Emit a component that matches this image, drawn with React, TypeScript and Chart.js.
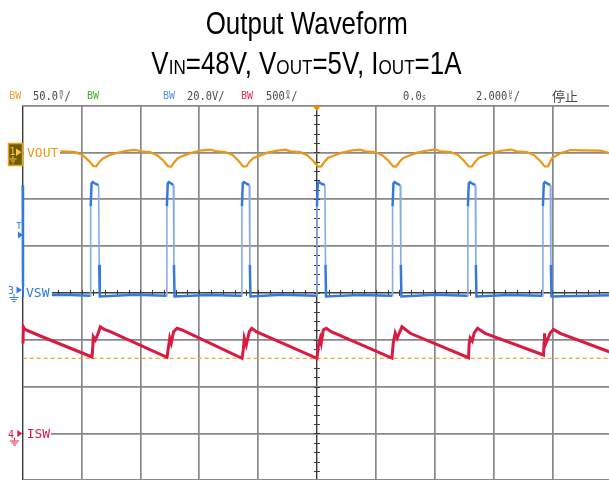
import React, { useEffect, useRef } from "react";
import { Chart, registerables } from "chart.js";

Chart.register(...registerables);

// ---------- scope settings ----------
// Horizontal: 2.000 us/div, 10 divisions, trigger at 0
const timeMinUs = -10;
const timeMaxUs = 10;
const timeDivUs = 2;
const timeMinorUs = 0.4;

// CH3 VSW: 20 V/div, ground at center
const vswMinV = -80;
const vswMaxV = 80;
const vswDivV = 20;
const vswMinorV = 4;

// CH1 VOUT: 50 mV/div (AC), ground 3 div above center
const voutMinMv = -350;
const voutMaxMv = 50;

// CH4 ISW: 500 mA/div, ground 3 div below center
const iswMinMa = -500;
const iswMaxMa = 3500;
const iswCursorMa = 802;

// ---------- waveform data ----------
const voutTimeUs = [
  -8.72, -8.45, -8.21, -7.97, -7.77, -7.6, -7.5, -7.39, -7.26, -7.05, -6.78, -6.44, -6.17,
  -6.0, -5.67, -5.43, -5.22, -5.06, -4.95, -4.85, -4.72, -4.5, -4.24, -3.9, -3.62,
  -3.45, -3.12, -2.88, -2.68, -2.51, -2.4, -2.3, -2.17, -1.95, -1.69, -1.35, -1.08,
  -0.9, -0.57, -0.33, -0.13, 0.04, 0.15, 0.25, 0.38, 0.59, 0.86, 1.2, 1.47,
  1.64, 1.98, 2.22, 2.42, 2.59, 2.69, 2.8, 2.93, 3.14, 3.41, 3.75, 4.02,
  4.21, 4.55, 4.79, 4.99, 5.16, 5.27, 5.37, 5.5, 5.71, 5.98, 6.32, 6.59,
  6.8, 7.13, 7.37, 7.57, 7.74, 7.85, 7.99, 8.27, 8.61, 9.0, 9.63, 9.93,
];
const voutMv = [
  1.0, 0.8, 0.2, -2.8, -8.5, -14.6, -14.9, -10.0, -6.2, -3.0, -0.4, 1.8, 2.6,
  1.2, 0.3, -3.0, -8.8, -15.0, -15.2, -10.5, -6.0, -3.2, -0.2, 2.2, 3.0,
  1.3, 0.4, -2.6, -8.4, -15.0, -15.1, -10.4, -6.3, -3.5, -0.3, 1.9, 2.8,
  1.0, 0.2, -3.0, -8.9, -15.2, -15.0, -10.2, -5.8, -3.3, -0.1, 2.1, 3.0,
  1.1, 0.3, -2.9, -8.6, -15.0, -15.2, -10.3, -6.1, -3.4, -0.3, 2.0, 3.1,
  1.0, 0.4, -2.7, -8.7, -15.1, -15.0, -10.4, -6.0, -3.4, -0.2, 2.0, 3.0,
  1.0, 0.3, -2.8, -8.6, -15.0, -15.1, -6.0, -1.0, 2.5, 2.2, 1.8, -0.7,
];

const vswTimeUs = [
  -10.0, -9.99, -9.97, -8.6,
  -7.7, -7.69, -7.66, -7.62, -7.52, -7.42, -7.4, -7.38, -6.2,
  -5.11, -5.1, -5.07, -5.03, -4.93, -4.88, -4.86, -4.84, -3.7,
  -2.56, -2.55, -2.52, -2.48, -2.38, -2.3, -2.28, -2.26, -1.2,
  -0.01, 0.0, 0.03, 0.07, 0.17, 0.27, 0.29, 0.31, 1.4,
  2.56, 2.57, 2.6, 2.64, 2.74, 2.83, 2.85, 2.87, 4.0,
  5.12, 5.13, 5.16, 5.2, 5.3, 5.38, 5.4, 5.42, 6.5,
  7.67, 7.68, 7.71, 7.75, 7.85, 7.93, 7.95, 7.97, 10.0,
];
const vswVolts = [
  46.0, 4, -1.2, -0.8,
  -1.2, 37, 46.8, 47.3, 46.5, 46.0, 12, -1.5, -0.8,
  -1.2, 37, 46.8, 47.3, 46.5, 46.0, 12, -1.5, -0.9,
  -1.2, 37, 46.8, 47.3, 46.5, 46.0, 12, -1.5, -0.8,
  -1.2, 37, 46.8, 47.3, 46.5, 46.0, 12, -1.5, -0.9,
  -1.2, 37, 46.8, 47.3, 46.5, 46.0, 12, -1.5, -0.8,
  -1.2, 37, 46.8, 47.3, 46.5, 46.0, 12, -1.5, -0.9,
  -1.2, 37, 46.8, 47.3, 46.5, 46.0, 12, -1.5, -1.0,
];

const iswTimeUs = [
  -9.99, -9.98, -9.92, -9.4, -7.645, -7.618, -7.601, -7.533, -7.431, -7.363, -7.227, -7.023,
  -5.097, -5.043, -5.002, -4.951, -4.873, -4.757, -4.587,
  -2.548, -2.504, -2.47, -2.402, -2.3, -2.215, -2.063,
  0.0, 0.044, 0.112, 0.146, 0.214, 0.316, 0.486,
  2.548, 2.593, 2.661, 2.729, 2.888, 3.17,
  5.151, 5.175, 5.209, 5.277, 5.345, 5.457, 5.719,
  7.7, 7.717, 7.734, 7.758, 7.927, 8.039, 8.267, 9.932,
];
const iswMa = [
  960, 1140, 1110, 1040, 816, 926, 1032, 997, 1072, 1139, 1111, 1086,
  813, 926, 1019, 965, 1086, 1122, 1104,
  802, 891, 1019, 944, 1086, 1122, 1086,
  802, 926, 1015, 965, 1104, 1122, 1086,
  805, 962, 1072, 1019, 1139, 1069,
  808, 965, 1019, 986, 1072, 1122, 1069,
  837, 962, 1069, 944, 1072, 1111, 1069, 872,
];

// ---------- colours ----------
const ORANGE = "#ec9716";
const BLUE = "#3479de";
const BLUE_EDGE = "#86ace8";
const RED = "#da1a40";
const GREEN = "#3fae2a";
const GRID = "#888888";
const GRID_DARK = "#3a3a3a";
const STATUS = "#4a4a4a";

const toPoints = (xs: number[], ys: number[]) => xs.map((x, i) => ({ x, y: ys[i] }));

const crosshairPlugin = {
  id: "crosshair",
  beforeDatasetsDraw(chart: any) {
    const { ctx } = chart;
    const x = chart.scales.x;
    const y = chart.scales.y;
    const cx = x.getPixelForValue(0);
    const cy = y.getPixelForValue(0);
    ctx.save();
    ctx.strokeStyle = GRID_DARK;
    ctx.lineWidth = 1;
    ctx.beginPath();
    for (let t = timeMinUs; t <= timeMaxUs + 1e-9; t += timeMinorUs) {
      const px = Math.round(x.getPixelForValue(t)) + 0.5;
      ctx.moveTo(px, cy - 3);
      ctx.lineTo(px, cy + 3);
    }
    for (let v = vswMinV; v <= vswMaxV + 1e-9; v += vswMinorV) {
      const py = Math.round(y.getPixelForValue(v)) + 0.5;
      ctx.moveTo(cx - 3, py);
      ctx.lineTo(cx + 3, py);
    }
    ctx.stroke();
    ctx.restore();
  },
};

const isDark = (v: number) => v === 0 || v === timeMinUs;
const isEdge = (c: any) => Math.abs(c.p1.parsed.y - c.p0.parsed.y) > 15 && c.p0.parsed.x > timeMinUs + 0.005;

export default function App() {
  const ref = useRef<HTMLCanvasElement>(null);

  useEffect(() => {
    const chart = new Chart(ref.current as HTMLCanvasElement, {
      type: "line",
      data: {
        datasets: [
          {
            label: "VOUT",
            data: toPoints(voutTimeUs, voutMv),
            yAxisID: "yOut",
            borderColor: ORANGE,
            borderWidth: 2.2,
            pointRadius: 0,
            tension: 0,
          },
          {
            label: "VSW",
            data: toPoints(vswTimeUs, vswVolts),
            yAxisID: "y",
            borderColor: BLUE,
            borderWidth: 2.5,
            pointRadius: 0,
            tension: 0,
            clip: 3,
            segment: {
              borderColor: (c: any) => (isEdge(c) ? BLUE_EDGE : BLUE),
              borderWidth: (c: any) => (isEdge(c) ? 1.6 : 2.5),
            },
          },
          {
            label: "ISW",
            data: toPoints(iswTimeUs, iswMa),
            yAxisID: "yI",
            borderColor: RED,
            borderWidth: 3,
            pointRadius: 0,
            tension: 0,
            clip: 3,
          },
          {
            label: "cursor",
            data: [
              { x: timeMinUs, y: iswCursorMa },
              { x: timeMaxUs, y: iswCursorMa },
            ],
            yAxisID: "yI",
            borderColor: "#f5a33a",
            borderWidth: 1.2,
            borderDash: [4, 3],
            pointRadius: 0,
          },
        ],
      },
      options: {
        animation: false,
        responsive: false,
        maintainAspectRatio: false,
        layout: { padding: { left: 22.7, top: 105.5, right: 640 - 611.2, bottom: 500 - 480.3 } },
        plugins: {
          legend: { display: false },
          tooltip: { enabled: false },
          title: { display: false },
        },
        scales: {
          x: {
            type: "linear",
            min: timeMinUs,
            max: timeMaxUs,
            ticks: { display: false, stepSize: timeDivUs },
            border: { display: false },
            grid: {
              drawTicks: false,
              color: (c: any) => (c.tick && isDark(c.tick.value) ? GRID_DARK : GRID),
              lineWidth: (c: any) => (c.tick && isDark(c.tick.value) ? 1.4 : 1.7),
            },
            afterFit: (s: any) => {
              s.height = 0;
            },
          },
          y: {
            type: "linear",
            min: vswMinV,
            max: vswMaxV,
            ticks: { display: false, stepSize: vswDivV },
            border: { display: false },
            grid: {
              drawTicks: false,
              color: (c: any) => (c.tick && c.tick.value === 0 ? GRID_DARK : GRID),
              lineWidth: (c: any) => (c.tick && c.tick.value === 0 ? 1.4 : 1.7),
            },
            afterFit: (s: any) => {
              s.width = 0;
            },
          },
          yOut: { type: "linear", display: false, min: voutMinMv, max: voutMaxMv },
          yI: { type: "linear", display: false, min: iswMinMa, max: iswMaxMa },
        },
      } as any,
      plugins: [crosshairPlugin],
    });
    return () => chart.destroy();
  }, []);

  const mono = "'DejaVu Sans Mono', 'Liberation Mono', monospace";
  const abs = (left: number, top: number, extra: React.CSSProperties = {}): React.CSSProperties => ({
    position: "absolute",
    left,
    top,
    whiteSpace: "nowrap",
    ...extra,
  });
  // narrow scope-style status text: a row scaled horizontally
  const group = (left: number, children: React.ReactNode) => (
    <div
      style={abs(left, 89, {
        display: "flex",
        alignItems: "flex-start",
        fontFamily: mono,
        fontSize: 13,
        lineHeight: "13px",
        color: STATUS,
        transform: "scaleX(0.8)",
        transformOrigin: "0 0",
      })}
    >
      {children}
    </div>
  );
  const stack = (top: string, bottom: string) => (
    <span
      style={{
        display: "flex",
        flexDirection: "column",
        alignItems: "center",
        fontSize: 7,
        lineHeight: "5.4px",
        marginTop: 1,
        width: 8,
      }}
    >
      <span>{top}</span>
      <span>{bottom}</span>
    </span>
  );
  const bw = (left: number, color: string) => (
    <span style={abs(left, 90.5, { fontFamily: mono, fontSize: 10, lineHeight: "10px", color })}>BW</span>
  );
  const sub: React.CSSProperties = { fontSize: "0.66em" };

  return (
    <div
      style={{
        position: "fixed",
        left: 0,
        top: 0,
        width: 609,
        height: 480,
        overflow: "hidden",
        background: "#fff",
        fontFamily: "'Liberation Sans', Arial, sans-serif",
      }}
    >
      <canvas
        ref={ref}
        width={640}
        height={500}
        style={{ position: "absolute", left: 0, top: 0, width: 640, height: 500 }}
      />

      {/* title */}
      <div style={abs(2, 7, { width: 609, textAlign: "center", fontSize: 32, lineHeight: "32px", color: "#000" })}>
        <span style={{ display: "inline-block", transform: "scaleX(0.81)" }}>Output Waveform</span>
      </div>
      <div style={abs(2, 47, { width: 609, textAlign: "center", fontSize: 32, lineHeight: "32px", color: "#000" })}>
        <span style={{ display: "inline-block", transform: "scaleX(0.81)" }}>
          V<span style={sub}>IN</span>=48V, V<span style={sub}>OUT</span>=5V, I<span style={sub}>OUT</span>=1A
        </span>
      </div>

      {/* status bar */}
      {bw(9.3, "#f0a030")}
      {group(33, <>
        <span>50.0</span>
        {stack("m", "V")}
        <span>/</span>
      </>)}
      {bw(87, GREEN)}
      {bw(163, "#4a90ea")}
      {group(187, <span>20.0V/</span>)}
      {bw(241, "#e8284e")}
      {group(266, <>
        <span>500</span>
        {stack("m", "A")}
        <span>/</span>
      </>)}
      {group(403, <>
        <span>0.0</span>
        <span style={{ fontSize: 9, lineHeight: "9px", marginTop: 3.5 }}>s</span>
      </>)}
      {group(476, <>
        <span>2.000</span>
        {stack("\u00b5", "s")}
        <span>/</span>
      </>)}
      <span
        style={abs(552, 87.5, {
          fontFamily: "'Noto Sans CJK JP', 'Noto Sans CJK SC', sans-serif",
          fontSize: 13,
          lineHeight: "15px",
          color: STATUS,
        })}
      >
        停止
      </span>

      {/* channel labels */}
      <div
        style={abs(24, 146, {
          width: 33,
          paddingLeft: 3,
          height: 13,
          background: "#fff",
          fontFamily: mono,
          fontSize: 13,
          lineHeight: "13px",
          color: ORANGE,
        })}
      >
        VOUT
      </div>
      <div
        style={abs(24, 285.5, {
          width: 26,
          paddingLeft: 2,
          height: 13,
          background: "#fff",
          fontFamily: mono,
          fontSize: 13,
          lineHeight: "13px",
          color: BLUE,
        })}
      >
        VSW
      </div>
      <div
        style={abs(24, 427, {
          width: 24.3,
          paddingLeft: 2.7,
          height: 13,
          background: "#fff",
          fontFamily: mono,
          fontSize: 13,
          lineHeight: "13px",
          color: RED,
        })}
      >
        ISW
      </div>

      {/* markers */}
      <svg width={609} height={480} style={{ position: "absolute", left: 0, top: 0, pointerEvents: "none" }}>
        {/* trigger position */}
        <polygon points="312.2,105.5 321.2,105.5 316.7,111" fill="#f08a00" />

        {/* channel 1 */}
        <rect x={8.5} y={143.5} width={14} height={22} fill="#6e5c00" stroke="#e8a020" strokeWidth={1.5} />
        <text x={9.6} y={155} fill="#f7c45a" fontSize={10} fontFamily={mono}>
          1
        </text>
        <polygon points="16,148.5 21.5,152.3 16,156" fill="#f7c45a" />
        <g stroke="#f7c45a" strokeWidth={1}>
          <line x1={13} y1={156} x2={13} y2={158.5} />
          <line x1={9.5} y1={159} x2={16.5} y2={159} />
          <line x1={11} y1={161} x2={15} y2={161} />
          <line x1={12.2} y1={163} x2={13.8} y2={163} />
        </g>

        {/* trigger level */}
        <text x={16.3} y={229} fill={BLUE} fontSize={9} fontFamily={mono}>
          T
        </text>
        <polygon points="18,231.5 23,235 18,238.5" fill={BLUE} />

        {/* channel 3 */}
        <text x={8} y={294} fill={BLUE} fontSize={10} fontFamily={mono}>
          3
        </text>
        <polygon points="16.5,286.5 22,290 16.5,293.5" fill={BLUE} />
        <g stroke={BLUE} strokeWidth={1}>
          <line x1={14} y1={294} x2={14} y2={297} />
          <line x1={9.5} y1={297.5} x2={18.5} y2={297.5} />
          <line x1={11} y1={299.5} x2={17} y2={299.5} />
          <line x1={12.5} y1={301.5} x2={15.5} y2={301.5} />
        </g>

        {/* channel 4 */}
        <text x={8} y={437.5} fill={RED} fontSize={10} fontFamily={mono}>
          4
        </text>
        <polygon points="17.3,430 22.3,433.5 17.3,437" fill={RED} />
        <g stroke={RED} strokeWidth={1}>
          <line x1={14.5} y1={437.5} x2={14.5} y2={440.5} />
          <line x1={10} y1={441} x2={19} y2={441} />
          <line x1={11.5} y1={443} x2={17.5} y2={443} />
          <line x1={13} y1={445} x2={16} y2={445} />
        </g>
      </svg>
    </div>
  );
}
